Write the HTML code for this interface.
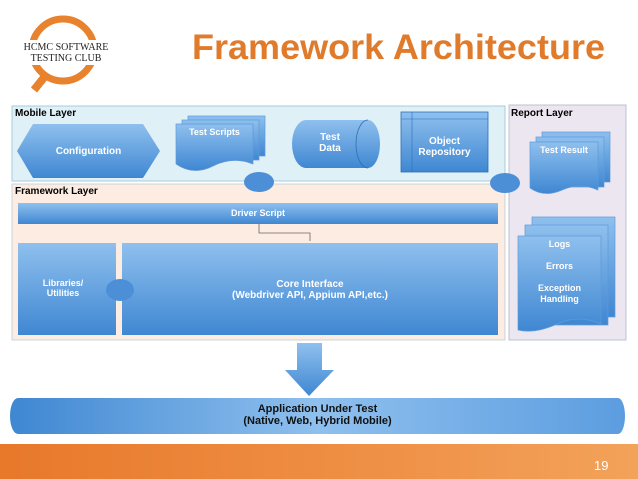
<html><head><style>
body{margin:0;width:638px;height:479px;background:#fff;position:relative;overflow:hidden;font-family:"Liberation Sans",sans-serif}
.t{position:absolute;font-weight:bold;font-size:10px;color:#fff;text-align:center}
</style></head><body>
<svg width="638" height="479" style="position:absolute;left:0;top:0">
<defs>
<linearGradient id="b" x1="0" y1="0" x2="0" y2="1"><stop offset="0" stop-color="#8fc0ee"/><stop offset="1" stop-color="#3f87d2"/></linearGradient>
<linearGradient id="h" x1="0" y1="0" x2="1" y2="0"><stop offset="0" stop-color="#3f87d2"/><stop offset=".5" stop-color="#8fc0ee"/><stop offset="1" stop-color="#5c9de0"/></linearGradient>
<linearGradient id="o" x1="0" y1="0" x2="1" y2="0"><stop offset="0" stop-color="#e8782a"/><stop offset="1" stop-color="#f3a25a"/></linearGradient>
</defs>
<!-- logo -->
<circle cx="63" cy="50" r="31" fill="none" stroke="#e8822c" stroke-width="7"/>
<line x1="46" y1="75" x2="34" y2="90" stroke="#e8822c" stroke-width="8"/>
<rect x="20" y="40" width="92" height="25" fill="#fff"/>
<text x="66" y="50" font-family="Liberation Serif" font-size="10" text-anchor="middle" fill="#222">HCMC SOFTWARE</text>
<text x="66" y="61" font-family="Liberation Serif" font-size="10" text-anchor="middle" fill="#222">TESTING CLUB</text>
<text x="192" y="59" font-size="35" fill="#e07b2c" font-weight="bold" textLength="413" lengthAdjust="spacingAndGlyphs">Framework Architecture</text>
<!-- layers -->
<rect x="12" y="106" width="493" height="75" fill="#dff0f6" stroke="#a9cbdc"/>
<rect x="12" y="184" width="493" height="156" fill="#fcece2" stroke="#c9d4dc"/>
<rect x="509" y="105" width="117" height="235" fill="#ece6f0" stroke="#b8c4d0"/>
<!-- mobile -->
<polygon points="17,151 33,124 143,124 160,151 143,178 33,178" fill="url(#b)"/>
<g fill="url(#b)" stroke="#5f9ad8" stroke-width=".7">
<rect x="188" y="116" width="77" height="40"/><rect x="182" y="120" width="77" height="40"/>
<path d="M176 124h77v40q-20 -8 -40 2t-37 -2z"/>
</g>
<path d="M306 120h62a12 24 0 0 1 0 48h-62a14 24 0 0 1 0-48z" fill="url(#b)"/>
<path d="M368 120a12 24 0 0 0 0 48" fill="none" stroke="#2e6fb5" stroke-width=".8"/>
<rect x="401" y="112" width="87" height="60" fill="url(#b)" stroke="#2e6fb5" stroke-width=".8"/>
<line x1="401" y1="119" x2="488" y2="119" stroke="#2e6fb5" stroke-width=".6"/><line x1="412" y1="112" x2="412" y2="172" stroke="#2e6fb5" stroke-width=".6"/>
<!-- framework -->
<rect x="18" y="203" width="480" height="21" fill="url(#b)"/>
<path d="M259 224v9h51v8" fill="none" stroke="#666" stroke-width=".8"/>
<rect x="18" y="243" width="98" height="92" fill="url(#b)"/>
<rect x="122" y="243" width="376" height="92" fill="url(#b)"/>
<!-- ovals -->
<ellipse cx="259" cy="182" rx="15" ry="10" fill="#4d8fd6"/>
<ellipse cx="505" cy="183" rx="15" ry="10" fill="#4d8fd6"/>
<ellipse cx="120" cy="290" rx="14" ry="11" fill="#4d8fd6"/>
<!-- report -->
<g fill="url(#b)" stroke="#5f9ad8" stroke-width=".7">
<rect x="542" y="132" width="68" height="50"/><rect x="536" y="137" width="68" height="50"/>
<path d="M530 142h68v48q-18 -8 -36 0t-32 -2z"/>
<rect x="532" y="217" width="83" height="100"/><rect x="525" y="225" width="83" height="100"/>
<path d="M518 236h83v88q-22 -10 -44 0t-39 6z"/>
</g>
<!-- arrow -->
<polygon points="297,343 322,343 322,370 334,370 309,396 285,370 297,370" fill="url(#b)"/>
<!-- app -->
<path d="M18 398h600a7 18 0 0 1 0 36h-600a8 18 0 0 1 0-36z" fill="url(#h)"/>
<rect x="0" y="444" width="638" height="35" fill="url(#o)"/>
<text x="594" y="470" font-size="13" fill="#fff">19</text>
</svg>
<div class="t" style="left:15px;top:108px;color:#000;font-size:10px">Mobile Layer</div>
<div class="t" style="left:15px;top:186px;color:#000;font-size:10px">Framework Layer</div>
<div class="t" style="left:511px;top:108px;color:#000;font-size:10px">Report Layer</div>
<div class="t" style="left:17px;top:146px;width:143px">Configuration</div>
<div class="t" style="left:176px;top:127px;width:77px;font-size:9px">Test Scripts</div>
<div class="t" style="left:300px;top:132px;width:60px">Test<br>Data</div>
<div class="t" style="left:401px;top:136px;width:87px">Object<br>Repository</div>
<div class="t" style="left:18px;top:208px;width:480px;font-size:9px">Driver Script</div>
<div class="t" style="left:18px;top:278px;width:90px;font-size:9px">Libraries/<br>Utilities</div>
<div class="t" style="left:122px;top:279px;width:376px">Core Interface<br>(Webdriver API, Appium API,etc.)</div>
<div class="t" style="left:530px;top:145px;width:68px;font-size:9px">Test Result</div>
<div class="t" style="left:518px;top:239px;width:83px;font-size:9px;line-height:11px">Logs<br><br>Errors<br><br>Exception<br>Handling</div>
<div class="t" style="left:10px;top:403px;width:615px;color:#111;font-size:11px">Application Under Test<br>(Native, Web, Hybrid Mobile)</div>
</body></html>
